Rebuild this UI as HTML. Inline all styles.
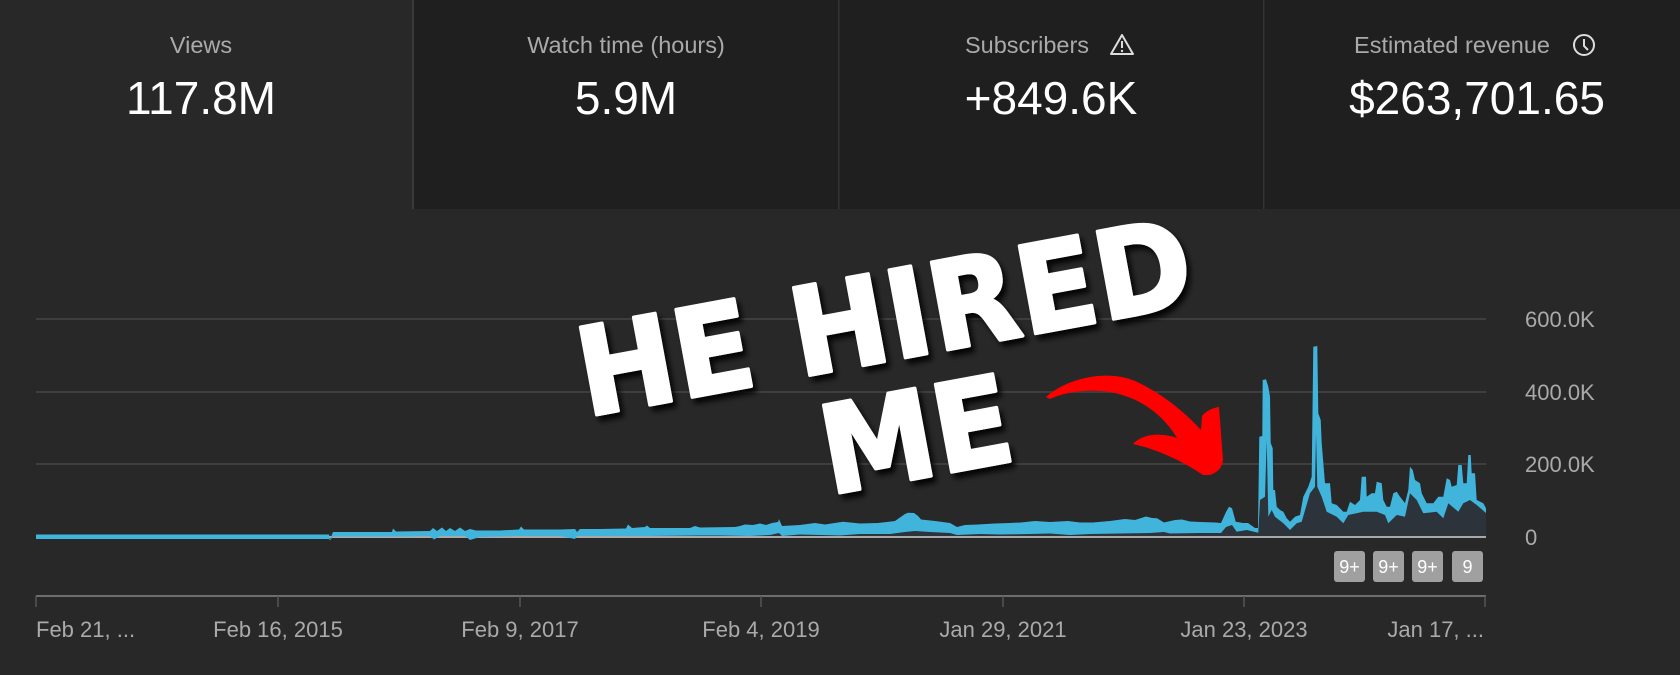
<!DOCTYPE html>
<html><head><meta charset="utf-8"><style>
html,body{margin:0;padding:0;background:#282828;}
svg{display:block;}
</style></head><body>
<svg width="1680" height="675" viewBox="0 0 1680 675" xmlns="http://www.w3.org/2000/svg">
<defs>
<filter id="sh" x="-10%" y="-20%" width="130%" height="150%">
<feDropShadow dx="4" dy="5" stdDeviation="3" flood-color="#000" flood-opacity="0.9"/>
</filter>
</defs>
<rect x="0" y="0" width="1680" height="675" fill="#282828"/>
<!-- top cards -->
<rect x="414" y="0" width="1266" height="209" fill="#1f1f1f"/>
<rect x="412" y="0" width="2" height="209" fill="#3a3a3a"/>
<rect x="838" y="0" width="1.5" height="209" fill="#333"/>
<rect x="1263" y="0" width="1.5" height="209" fill="#333"/>
<g font-family="'Liberation Sans', Arial, sans-serif" text-anchor="middle">
<text x="201" y="53" font-size="23.5" fill="#aaaaaa">Views</text>
<text x="201" y="114" font-size="46" fill="#ffffff">117.8M</text>
<text x="626" y="53" font-size="23.5" fill="#aaaaaa">Watch time (hours)</text>
<text x="626" y="114" font-size="46" fill="#ffffff">5.9M</text>
<text x="1027" y="53" font-size="23.5" fill="#aaaaaa">Subscribers</text>
<text x="1051" y="114" font-size="46" fill="#ffffff">+849.6K</text>
<text x="1452" y="53" font-size="23.5" fill="#aaaaaa">Estimated revenue</text>
<text x="1477" y="114" font-size="46" fill="#ffffff">$263,701.65</text>
</g>
<!-- warning icon -->
<path d="M1122,35 L1133,54 L1111,54 Z" fill="none" stroke="#dddddd" stroke-width="2" stroke-linejoin="round"/>
<line x1="1122" y1="41" x2="1122" y2="48" stroke="#dddddd" stroke-width="2"/>
<circle cx="1122" cy="51" r="1.2" fill="#dddddd"/>
<!-- clock icon -->
<circle cx="1584" cy="45" r="10" fill="none" stroke="#dddddd" stroke-width="2"/>
<path d="M1584,39 V46 L1588,50" fill="none" stroke="#dddddd" stroke-width="2"/>

<!-- grid -->
<g stroke="#3e3e3e" stroke-width="2">
<line x1="36" y1="319" x2="1486" y2="319"/>
<line x1="36" y1="392" x2="1486" y2="392"/>
<line x1="36" y1="464" x2="1486" y2="464"/>
</g>
<!-- y labels -->
<g font-family="'Liberation Sans', Arial, sans-serif" font-size="22" fill="#aaaaaa">
<text x="1525" y="327">600.0K</text>
<text x="1525" y="400">400.0K</text>
<text x="1525" y="472">200.0K</text>
<text x="1525" y="545">0</text>
</g>

<!-- dark area fill -->
<polygon fill="#2c333b" points="36,534.5 329,534.5 333,532 392,532 393,528.5 396,531.5 430,531 433,528 437,531 442,527.5 446,531 450,528 455,531 460,527.5 465,531 470,529 476,530.5 500,530.5 519,529.5 521,526.5 524,529.5 560,529.5 575,529 580,529 600,529 626,528.5 628,524.5 632,528 645,527 647,525.5 650,528 690,528 695,526 700,527.5 735,527 740,526 745,524.5 753,525 760,523.5 766,525 772,523 778,522 779,519.3 782,526 800,525 815,523 825,524.5 843,521.7 860,523.5 878,523 895,521 905,514 908,512.7 914,513 918,516 921,519.5 935,521 950,523 957,527 965,525 978,524.5 995,523.5 1010,523 1021,522.5 1035,521 1050,522 1068,521 1080,522.5 1093,522.5 1110,521 1125,519 1135,520 1146,516.5 1152,518 1157,518.3 1164,522.5 1175,520 1182,519.5 1190,521.5 1200,522 1215,522.5 1221,523 1226,512 1229,506.7 1232,508.3 1235.7,521.7 1243,523 1248,523 1255,528 1258,528 1259.3,436.7 1262.3,436 1262.7,380 1266,379.3 1268.3,386.7 1270,396.7 1270.7,443 1272.7,448.3 1273.3,490 1275,490 1276.7,506.7 1280,510 1283.3,511.7 1286.7,518.3 1290,521.7 1295,516.7 1300,515 1303.3,496.7 1308.3,486.7 1311.7,476.7 1313.3,346.7 1317.3,346 1318.3,413.3 1320.7,420 1321.7,443.3 1325,483.3 1330,483.3 1331.7,503.3 1336.7,505 1343.3,511.7 1346.7,511.7 1350,501.7 1355,505 1360,500 1361.7,476.7 1366,476.7 1366.7,496.7 1371.7,493.3 1375,493.3 1376.7,481.7 1381.7,483.3 1383.3,500 1386.7,506.7 1390,506.7 1393.3,493.3 1396.7,491.7 1400,496.7 1405,503.3 1408.3,490 1410,466.7 1412.7,470 1415,480 1420,483.3 1421.7,493.3 1426.7,503.3 1433.3,503.3 1438.3,496.7 1443.3,496.7 1446.7,478.3 1450,480 1451.7,486.7 1456.7,485 1458.3,465 1461.7,465 1463.3,483.3 1466.7,483.3 1468.3,455 1470.7,455 1471.7,473.3 1475,473.3 1476.7,500 1483.3,503.3 1486,508.3 1486,536 36,536"/>

<!-- zero line -->
<line x1="36" y1="537" x2="1486" y2="537" stroke="#a8a8a8" stroke-width="2"/>

<!-- blue band -->
<polygon fill="#41b4dc" points="36,534.5 329,534.5 330,540 333,532 360,532 392,532 393,528.5 396,531.5 430,531 433,528 437,531 442,527.5 446,531 450,528 455,531 460,527.5 465,531 470,529 476,530.5 500,530.5 519,529.5 521,526.5 524,529.5 560,529.5 575,529 577,532 580,529 600,529 626,528.5 628,524.5 632,528 645,527 647,525.5 650,528 690,528 695,526 700,527.5 735,527 740,526 745,524.5 753,525 760,523.5 766,525 772,523 778,522 779,519.3 782,526 800,525 815,523 825,524.5 843,521.7 860,523.5 878,523 895,521 905,514 908,512.7 914,513 918,516 921,519.5 935,521 950,523 957,527 965,525 978,524.5 995,523.5 1010,523 1021,522.5 1035,521 1050,522 1068,521 1080,522.5 1093,522.5 1110,521 1125,519 1135,520 1146,516.5 1152,518 1157,518.3 1164,522.5 1175,520 1182,519.5 1190,521.5 1200,522 1215,522.5 1221,523 1226,512 1229,506.7 1232,508.3 1235.7,521.7 1243,523 1248,523 1255,528 1258,528 1259.3,436.7 1262.3,436 1262.7,380 1266,379.3 1268.3,386.7 1270,396.7 1270.7,443 1272.7,448.3 1273.3,490 1275,490 1276.7,506.7 1280,510 1283.3,511.7 1286.7,518.3 1290,521.7 1295,516.7 1300,515 1303.3,496.7 1308.3,486.7 1311.7,476.7 1313.3,346.7 1317.3,346 1318.3,413.3 1320.7,420 1321.7,443.3 1325,483.3 1330,483.3 1331.7,503.3 1336.7,505 1343.3,511.7 1346.7,511.7 1350,501.7 1355,505 1360,500 1361.7,476.7 1366,476.7 1366.7,496.7 1371.7,493.3 1375,493.3 1376.7,481.7 1381.7,483.3 1383.3,500 1386.7,506.7 1390,506.7 1393.3,493.3 1396.7,491.7 1400,496.7 1405,503.3 1408.3,490 1410,466.7 1412.7,470 1415,480 1420,483.3 1421.7,493.3 1426.7,503.3 1433.3,503.3 1438.3,496.7 1443.3,496.7 1446.7,478.3 1450,480 1451.7,486.7 1456.7,485 1458.3,465 1461.7,465 1463.3,483.3 1466.7,483.3 1468.3,455 1470.7,455 1471.7,473.3 1475,473.3 1476.7,500 1483.3,503.3 1486,508.3
1486,513 1476.7,505 1470,500 1463.3,503.3 1458.3,511.7 1448.3,503.3 1443.3,518.3 1436.7,511.7 1423.3,513.3 1416.7,500 1410,493.3 1405,516.7 1396.7,515 1388.3,523.3 1385,515 1376.7,511.7 1363.3,511.7 1348.3,515 1343.3,523.3 1336.7,516.7 1326.7,511.7 1321.7,496.7 1317.3,486.7 1316,433.3 1315,486.7 1310,493.3 1301.7,521.7 1296.7,523.3 1290,530 1283.3,523.3 1275,516.7 1271.7,510 1268.3,516.7 1266.7,440 1265,496.7 1260,500 1258.3,532.7 1246.7,530 1236.7,531.7 1232,525 1226,527 1221,533 1200,533 1170,533.5 1164,532 1150,533 1120,533.5 1090,534 1070,535 1050,533.5 1030,534 1000,534.5 980,534 957,535 950,533 930,532 915,531 905,532 890,534 860,534 840,535.5 800,534.5 782,536 779,533 770,535 750,536 720,535.5 700,535.5 650,536 630,536 577,536 575,539 560,536 520,536 480,537 470,540 465,536 440,536 434,539.5 430,536 400,536.5 333,536.5 330,540.5 329,539 36,539"/>

<!-- badges -->
<g font-family="'Liberation Sans', Arial, sans-serif" font-size="18" fill="#ffffff" text-anchor="middle">
<rect x="1334" y="551" width="31" height="31" rx="3" fill="#a0a0a0"/>
<rect x="1373" y="551" width="31" height="31" rx="3" fill="#a0a0a0"/>
<rect x="1412" y="551" width="31" height="31" rx="3" fill="#a0a0a0"/>
<rect x="1452" y="551" width="31" height="31" rx="3" fill="#a0a0a0"/>
<text x="1349.5" y="573">9+</text>
<text x="1388.5" y="573">9+</text>
<text x="1427.5" y="573">9+</text>
<text x="1467.5" y="573">9</text>
</g>

<!-- x axis -->
<line x1="36" y1="596" x2="1486" y2="596" stroke="#6e6e6e" stroke-width="2"/>
<g stroke="#555" stroke-width="1.5">
<line x1="36" y1="596" x2="36" y2="607"/>
<line x1="278" y1="596" x2="278" y2="607"/>
<line x1="520" y1="596" x2="520" y2="607"/>
<line x1="761" y1="596" x2="761" y2="607"/>
<line x1="1003" y1="596" x2="1003" y2="607"/>
<line x1="1244" y1="596" x2="1244" y2="607"/>
<line x1="1485" y1="596" x2="1485" y2="607"/>
</g>
<g font-family="'Liberation Sans', Arial, sans-serif" font-size="22" fill="#aaaaaa" text-anchor="middle">
<text x="36" y="637" text-anchor="start">Feb 21, ...</text>
<text x="278" y="637">Feb 16, 2015</text>
<text x="520" y="637">Feb 9, 2017</text>
<text x="761" y="637">Feb 4, 2019</text>
<text x="1003" y="637">Jan 29, 2021</text>
<text x="1244" y="637">Jan 23, 2023</text>
<text x="1484" y="637" text-anchor="end">Jan 17, ...</text>
</g>

<!-- red arrow -->
<path fill="#ff0000" d="M1046,397 C1070,376 1110,370 1135,381 C1160,392 1185,412 1201,430 L1202,416 C1207,410 1213,408 1219,407 L1223,460 C1222,468 1218,472 1210,475 L1203,475 C1185,463 1160,450 1133,444 C1142,434 1160,432 1177,438 C1165,418 1145,400 1115,393 C1090,388 1065,392 1050,399 Z"/>

<!-- big text -->
<g filter="url(#sh)">
<g transform="translate(892,360) rotate(-10.5)" font-family="'DejaVu Sans', 'Liberation Sans', sans-serif" font-weight="bold" font-size="122" fill="#ffffff" stroke="#ffffff" stroke-width="3.5" stroke-linejoin="round" text-anchor="middle">
<text x="0" y="0" textLength="622" lengthAdjust="spacingAndGlyphs">HE HIRED</text>
<text x="10" y="121" textLength="192" lengthAdjust="spacingAndGlyphs">ME</text>
</g>
</g>
</svg>
</body></html>
